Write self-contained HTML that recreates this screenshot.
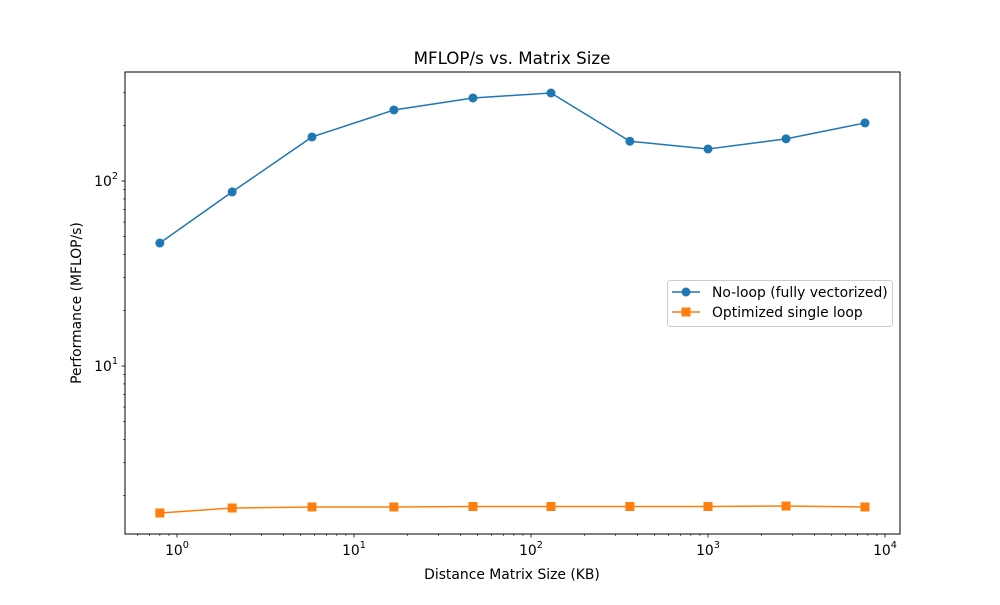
<!DOCTYPE html>
<html><head><meta charset="utf-8"><style>
body{margin:0;background:#fff;}
svg text{font-family:"DejaVu Sans","Liberation Sans",sans-serif;fill:#000;}
</style></head><body>
<svg id="chart" width="1000" height="600" xmlns="http://www.w3.org/2000/svg">
<rect width="1000" height="600" fill="#fff"/>
<text x="512" y="64" text-anchor="middle" font-size="16.7">MFLOP/s vs. Matrix Size</text>
<text x="512" y="579" text-anchor="middle" font-size="13.9">Distance Matrix Size (KB)</text>
<text x="81" y="303" text-anchor="middle" font-size="13.9" transform="rotate(-90 81 303)">Performance (MFLOP/s)</text>
<g id="ticks"></g>
<g id="series"></g>
<rect x="125" y="72" width="775" height="462" fill="none" stroke="#000" stroke-width="1"/>
<g>
<rect x="667.5" y="280.5" width="225" height="46" rx="3" fill="#fff" fill-opacity="0.8" stroke="#ccc"/>
<g>
<line x1="672" y1="292" x2="700" y2="292" stroke="#1f77b4" stroke-width="1.5"/>
<circle cx="686" cy="292" r="4.5" fill="#1f77b4"/>
<text x="712" y="297" font-size="13.9">No-loop (fully vectorized)</text>
</g>
<g>
<line x1="672" y1="312" x2="700" y2="312" stroke="#ff7f0e" stroke-width="1.5"/>
<rect x="681.5" y="307.5" width="9" height="9" fill="#ff7f0e"/>
<text x="712" y="317" font-size="13.9">Optimized single loop</text>
</g>
</g>
</svg>
<script>
const sizesKB=[0.8,2.05,5.79,16.8,47,129.7,362,1000,2760,7710];
const noLoop=[46.2,87.3,173,242,281,299,164,149,169,206];
const optimized=[1.605,1.708,1.73,1.73,1.74,1.74,1.74,1.74,1.75,1.73];
const xDecades=[0,1,2,3,4];
const yDecades=[1,2];
const NS='http://www.w3.org/2000/svg';
function X(v){return 177+177*Math.log10(v);}
function Y(v){return 366-185*(Math.log10(v)-1);}
function mk(t,a,p){const e=document.createElementNS(NS,t);for(const k in a)e.setAttribute(k,a[k]);p.appendChild(e);return e;}
const tk=document.getElementById('ticks');
for(let d=-1;d<=4;d++)for(let m=1;m<10;m++){const v=m*Math.pow(10,d);const x=X(v);if(x<125||x>900)continue;
 const l=mk('line',{x1:x,x2:x,y1:534,y2:534+(m==1?3.5:2),stroke:'#000','stroke-width':m==1?0.8:0.6},tk);
 
 }
xDecades.forEach(d=>{const t=mk('text',{x:X(Math.pow(10,d)),y:555,'text-anchor':'middle','font-size':'13.9'},tk);
 
 
 t.innerHTML='10<tspan dy="-7" font-size="9.7">'+d+'</tspan>';});
for(let d=0;d<=2;d++)for(let m=1;m<10;m++){const v=m*Math.pow(10,d);const y=Y(v);if(y<72||y>534)continue;
 const l=mk('line',{x1:125,x2:125-(m==1?3.5:2),y1:y,y2:y,stroke:'#000','stroke-width':m==1?0.8:0.6},tk);
 
 }
yDecades.forEach(d=>{const t=mk('text',{x:118,y:Y(Math.pow(10,d))+5,'text-anchor':'end','font-size':'13.9'},tk);
 
 
 t.innerHTML='10<tspan dy="-7" font-size="9.7">'+d+'</tspan>';});
const sg=document.getElementById('series');
function line(vals,color,name,shape){
 const pts=sizesKB.map((s,i)=>X(s)+','+Y(vals[i])).join(' ');
 const pl=mk('polyline',{points:pts,fill:'none',stroke:color,'stroke-width':1.5},sg);
 
 
 sizesKB.forEach((s,i)=>{let e;
  if(shape=='c')e=mk('circle',{cx:X(s),cy:Y(vals[i]),r:4.5,fill:color},sg);
  else e=mk('rect',{x:X(s)-4.5,y:Y(vals[i])-4.5,width:9,height:9,fill:color},sg);
  
  });
}
line(noLoop,'#1f77b4','no-loop','c');
line(optimized,'#ff7f0e','optimized-single-loop','s');
</script>
</body></html>
